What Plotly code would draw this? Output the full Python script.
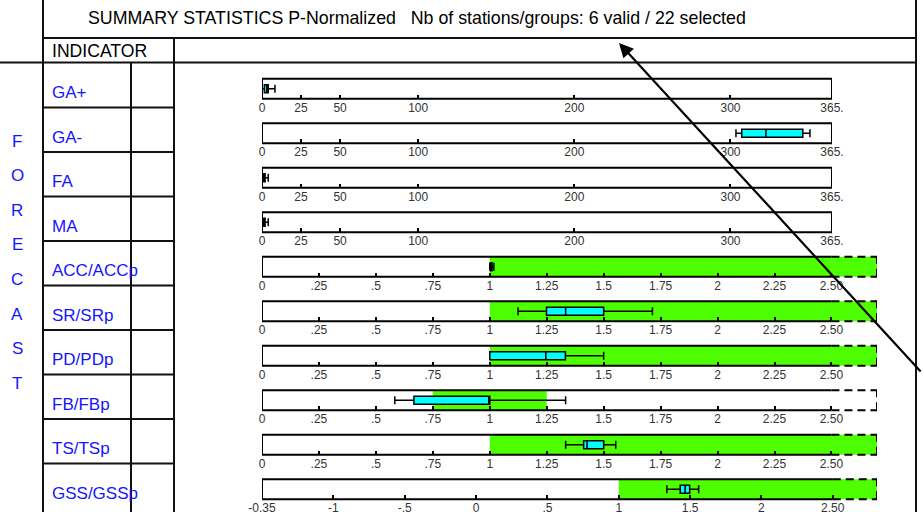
import plotly.graph_objects as go

# ---------------- data ----------------
indicators = ["GA+", "GA-", "FA", "MA", "ACC/ACCp", "SR/SRp", "PD/PDp", "FB/FBp", "TS/TSp", "GSS/GSSp"]
scale_type = ["days", "days", "days", "days", "ratio", "ratio", "ratio", "ratio", "ratio", "skill"]
whisker_low = [0.0, 303.5, 0.0, 0.0, 1.000, 1.124, 1.000, 0.583, 1.333, 1.337]
quartile1 = [1.5, 307.2, 0.8, 0.8, 1.003, 1.249, 1.000, 0.667, 1.412, 1.431]
medians = [3.0, 322.7, 1.5, 1.5, 1.006, 1.333, 1.246, 1.000, 1.427, 1.465]
quartile3 = [4.0, 346.3, 2.0, 2.0, 1.010, 1.500, 1.332, 1.000, 1.500, 1.497]
whisker_high = [8.3, 350.9, 4.0, 4.0, 1.018, 1.714, 1.500, 1.333, 1.553, 1.560]
target_low = [None, None, None, None, 1.0, 1.0, 1.0, 0.75, 1.0, 1.0]
target_high = [None, None, None, None, None, None, None, 1.25, None, None]  # None = open-ended

days_ticks = [0, 25, 50, 100, 200, 300, 365]
days_labels = ["0", "25", "50", "100", "200", "300", "365."]
ratio_ticks = [0, 0.25, 0.5, 0.75, 1, 1.25, 1.5, 1.75, 2, 2.25, 2.5]
ratio_labels = ["0", ".25", ".5", ".75", "1", "1.25", "1.5", "1.75", "2", "2.25", "2.50"]
skill_ticks = [-1.5, -1, -0.5, 0, 0.5, 1, 1.5, 2, 2.5]
skill_labels = ["-0.35", "-1", "-.5", "0", ".5", "1", "1.5", "2", "2.50"]

title_text = "SUMMARY STATISTICS P-Normalized\u00a0\u00a0\u00a0Nb of stations/groups: 6 valid / 22 selected"
header_text = "INDICATOR"
side_text = "FORECAST"

# ---------------- layout helpers ----------------
W, H = 923, 512


def px(x):
    return x / W


def py(y):
    return 1 - y / H


scales = {
    "days": dict(rng=[0, 365], solid_end=365, x_end=832, ticks=days_ticks, labels=days_labels),
    "ratio": dict(rng=[0, 2.7], solid_end=2.5, x_end=877, ticks=ratio_ticks, labels=ratio_labels),
    "skill": dict(rng=[-1.5, 2.81], solid_end=2.5, x_end=877, ticks=skill_ticks, labels=skill_labels),
}

BASE_FONT = "Liberation Sans, Arial, sans-serif"
TICK_FONT = "Liberation Sans Narrow, Arial Narrow, Liberation Sans, Arial, sans-serif"
BLUE = "#1414ff"
GREEN = "#4dff00"
CYAN = "#00ffff"
LINE = "#111111"

fig = go.Figure()
shapes = []
annotations = []
layout_axes = {}

ROW0 = 63.0
PITCH = 44.5
PANEL_OFF = 15.8
PANEL_H = 20.0

for i, name in enumerate(indicators):
    sc = scales[scale_type[i]]
    sid = "" if i == 0 else str(i + 1)
    xa, ya = "x" + sid, "y" + sid
    top = ROW0 + PITCH * i + PANEL_OFF
    bot = top + PANEL_H
    layout_axes["xaxis" + sid] = dict(
        domain=[px(262), px(sc["x_end"])], range=sc["rng"], anchor=ya,
        tickvals=sc["ticks"], ticktext=sc["labels"], ticks="inside", ticklen=4,
        tickwidth=1.5, tickcolor="black", showgrid=False, zeroline=False, showline=False,
        tickfont=dict(family=TICK_FONT, size=12, color="#333333"), fixedrange=True,
        automargin=False,
    )
    layout_axes["yaxis" + sid] = dict(
        domain=[py(bot), py(top)], range=[-1, 1], anchor=xa, visible=False, fixedrange=True,
    )

    fig.add_trace(go.Box(
        y=[0], q1=[quartile1[i]], median=[medians[i]], q3=[quartile3[i]],
        lowerfence=[whisker_low[i]], upperfence=[whisker_high[i]],
        orientation="h", xaxis=xa, yaxis=ya, fillcolor=CYAN,
        line=dict(color="black", width=1.5), width=0.8, whiskerwidth=1,
        boxpoints=False, hoverinfo="skip", showlegend=False,
    ))

    # target (green) zone
    if target_low[i] is not None:
        hi = target_high[i] if target_high[i] is not None else sc["rng"][1]
        shapes.append(dict(type="rect", xref=xa, yref=ya + " domain", x0=target_low[i], x1=hi,
                           y0=0, y1=1, fillcolor=GREEN, line=dict(width=0), layer="below"))

    lo, se, hi_r = sc["rng"][0], sc["solid_end"], sc["rng"][1]
    solid = dict(color="black", width=2)
    dashed = dict(color="black", width=2, dash="8px,5px")
    if scale_type[i] == "days":
        shapes.append(dict(type="rect", xref=xa, yref=ya + " domain", x0=lo, x1=se, y0=0, y1=1,
                           line=solid, fillcolor="rgba(0,0,0,0)", layer="above"))
    else:
        for (x0, x1, y0, y1, ln) in [
            (lo, lo, 0, 1, solid), (lo, se, 0, 0, solid), (lo, se, 1, 1, solid),
            (se, hi_r, 0, 0, dashed), (se, hi_r, 1, 1, dashed), (hi_r, hi_r, 0, 1, dashed),
        ]:
            shapes.append(dict(type="line", xref=xa, yref=ya + " domain", x0=x0, x1=x1,
                               y0=y0, y1=y1, line=ln, layer="above"))

    # indicator label
    annotations.append(dict(text=name, xref="paper", yref="paper", x=px(50), y=py(ROW0 + PITCH * i + 29.5),
                            xanchor="left", yanchor="middle", showarrow=False,
                            font=dict(family=BASE_FONT, size=17, color=BLUE)))

# ---------------- table grid ----------------
def pline(x0, y0, x1, y1, w=2):
    shapes.append(dict(type="line", xref="paper", yref="paper", x0=px(x0), y0=py(y0),
                       x1=px(x1), y1=py(y1), line=dict(color=LINE, width=w), layer="above"))


pline(43, 0, 43, 512)
pline(916, 0, 916, 512)
pline(43, 38, 916, 38)
pline(0, 62.5, 916, 62.5)
pline(174, 38, 174, 512)
pline(131, 62.5, 131, 512)
for k in range(1, len(indicators)):
    yy = ROW0 + PITCH * k
    pline(43, yy, 174, yy)

# ---------------- texts ----------------
annotations.append(dict(text=title_text, xref="paper", yref="paper", x=px(86), y=py(18),
                        xanchor="left", yanchor="middle", showarrow=False,
                        font=dict(family=BASE_FONT, size=17.8, color="black")))
annotations.append(dict(text=header_text, xref="paper", yref="paper", x=px(50), y=py(51),
                        xanchor="left", yanchor="middle", showarrow=False,
                        font=dict(family=BASE_FONT, size=17.6, color="black")))
for j, ch in enumerate(side_text):
    annotations.append(dict(text=ch, xref="paper", yref="paper", x=px(17), y=py(141 + 34.6 * j),
                            xanchor="center", yanchor="middle", showarrow=False,
                            font=dict(family=BASE_FONT, size=17, color=BLUE)))

# arrow
annotations.append(dict(text="", xref="paper", yref="paper", x=px(619), y=py(43),
                        ax=303, ay=330, showarrow=True, arrowhead=2, arrowsize=1.3,
                        arrowwidth=2.2, arrowcolor="black"))

fig.update_layout(
    width=W, height=H, margin=dict(l=0, r=0, t=0, b=0, pad=0, autoexpand=False),
    paper_bgcolor="white", plot_bgcolor="rgba(0,0,0,0)",
    shapes=shapes, annotations=annotations, showlegend=False,
    font=dict(family=BASE_FONT),
    **layout_axes,
)

fig.write_html("out.html", config={"displayModeBar": False},
               post_script="document.body.style.margin='0';document.body.style.overflow='hidden';")
